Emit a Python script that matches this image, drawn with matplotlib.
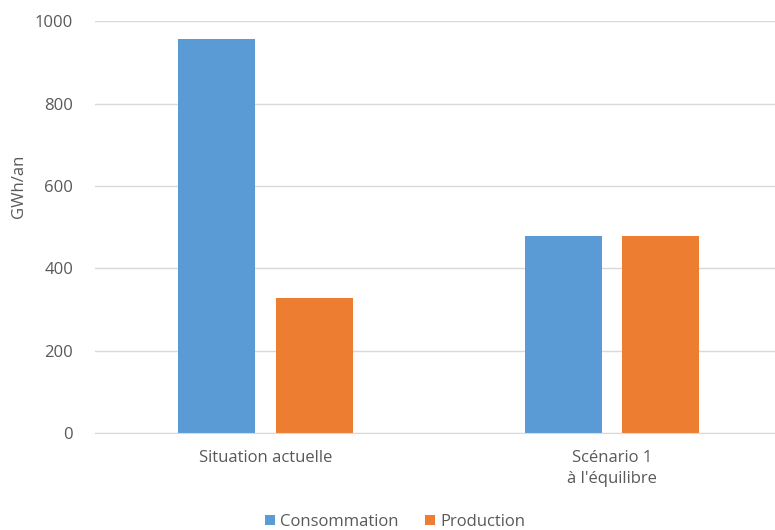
import numpy as np
import matplotlib.pyplot as plt

plt.rcParams['font.family'] = ['Open Sans', 'DejaVu Sans']

categories = ['Situation actuelle', 'Scénario 1\nà l\'équilibre']
consommation = [957, 478]
production = [328, 478]
series_names = ['Consommation', 'Production']

blue = '#5B9BD5'
orange = '#ED7D31'
grey = '#595959'

fig = plt.figure(figsize=(7.75, 5.3), dpi=100)
ax = fig.add_axes([0.123, 0.183, 0.877, 0.777])

x = np.arange(len(categories))
w = 0.222
gap = 0.03
ax.bar(x - w / 2 - gap, consommation, w, color=blue, label=series_names[0], zorder=3)
ax.bar(x + w / 2 + gap, production, w, color=orange, label=series_names[1], zorder=3)

ax.set_xlim(-0.49, 1.47)
ax.set_ylim(0, 1000)
ax.set_yticks(range(0, 1001, 200))
ax.set_xticks(x)
ax.set_xticklabels(categories, fontsize=12, color=grey, linespacing=1.45)
ax.tick_params(axis='y', labelsize=12, colors=grey, length=0, pad=16)
ax.tick_params(axis='x', length=0, pad=12)
ax.set_ylabel('GWh/an', fontsize=12, color=grey)
ax.yaxis.set_label_coords(-0.101, 0.60)

ax.grid(axis='y', color='#D9D9D9', linewidth=1, zorder=0)
for s in ['top', 'right', 'left']:
    ax.spines[s].set_visible(False)
ax.spines['bottom'].set_color('#D9D9D9')
ax.spines['bottom'].set_zorder(4)

leg = fig.legend(loc='lower center', bbox_to_anchor=(0.51, -0.028), ncol=2, frameon=False,
                 fontsize=12, handlelength=0.6, handleheight=0.6, handletextpad=0.3,
                 columnspacing=1.6)
for t in leg.get_texts():
    t.set_color(grey)

fig.savefig('out.png', dpi=100)
